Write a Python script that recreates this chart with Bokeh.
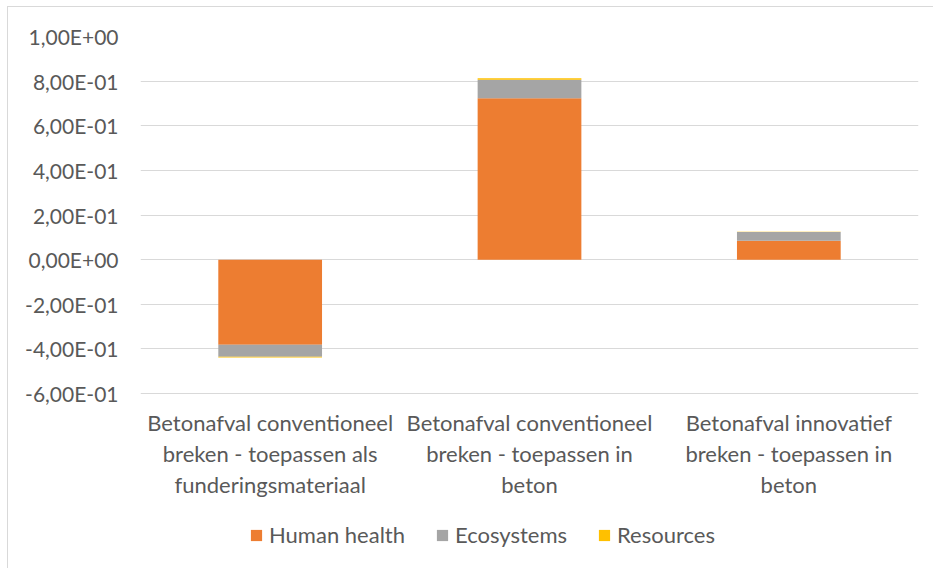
from bokeh.plotting import figure
from bokeh.models import FactorRange, FixedTicker, Legend, LegendItem, Range1d, ColumnDataSource
from bokeh.core.properties import value
from bokeh.embed import file_html
from bokeh.resources import INLINE

# ---- data ----
categories = [
    "Betonafval conventioneel breken - toepassen als funderingsmateriaal",
    "Betonafval conventioneel breken - toepassen in beton",
    "Betonafval innovatief breken - toepassen in beton",
]
# wrapped category labels (line 1, line 2, line 3)
category_label_lines = [
    ["Betonafval conventioneel", "breken - toepassen als", "funderingsmateriaal"],
    ["Betonafval conventioneel", "breken - toepassen in", "beton"],
    ["Betonafval innovatief", "breken - toepassen in", "beton"],
]
series = ["Human health", "Ecosystems", "Resources"]
human_health = [-0.382, 0.723, 0.085]
ecosystems = [-0.053, 0.083, 0.039]
resources = [-0.004, 0.007, 0.001]
colors = ["#ED7D31", "#A5A5A5", "#FFC000"]
y_ticks = [-0.6, -0.4, -0.2, 0.0, 0.2, 0.4, 0.6, 0.8, 1.0]
y_tick_labels = ["-6,00E-01", "-4,00E-01", "-2,00E-01", "0,00E+00", "2,00E-01",
                 "4,00E-01", "6,00E-01", "8,00E-01", "1,00E+00"]

FONT = "Lato"
TXT = "#595959"

# layout: value axis spans 357 px for 1.6 units; frame continues 176 px below it
FRAME_H = 533
PX_AXIS = 357
y_top = y_ticks[-1]
y_bottom = y_top - (y_ticks[-1] - y_ticks[0]) * FRAME_H / PX_AXIS

data = {"cat": categories, "Human health": human_health,
        "Ecosystems": ecosystems, "Resources": resources}

p = figure(x_range=FactorRange(factors=categories), y_range=Range1d(y_bottom, y_top),
           width=926, height=562, output_backend="svg", toolbar_location=None,
           min_border_left=132, min_border_right=16, min_border_top=29,
           min_border_bottom=0)
p.styles = {"margin-left": "7px", "margin-top": "6px",
            "border-left": "1px solid #d9d9d9", "border-top": "1px solid #d9d9d9"}

renderers = p.vbar_stack(series, x="cat", width=0.40, color=colors,
                         line_color=None, source=data)

p.outline_line_color = None
p.xgrid.grid_line_color = None
p.ygrid.grid_line_color = "#d9d9d9"
p.ygrid.grid_line_width = 1
p.xaxis.visible = False

yax = p.yaxis[0]
yax.ticker = FixedTicker(ticks=y_ticks)
yax.major_label_overrides = {t: l for t, l in zip(y_ticks, y_tick_labels)}
yax.axis_line_color = None
yax.major_tick_line_color = None
yax.minor_tick_line_color = None
yax.major_tick_out = 0
yax.major_tick_in = 0
yax.major_label_text_font = FONT
yax.major_label_text_font_size = "21px"
yax.major_label_text_color = TXT
yax.major_label_standoff = 22

# category labels below the value axis
lab_x, lab_text, lab_off = [], [], []
for c, lines in zip(categories, category_label_lines):
    for k, line in enumerate(lines):
        lab_x.append(c)
        lab_text.append(line)
        lab_off.append(29 + 31 * k)
lab_src = ColumnDataSource(dict(x=lab_x, text=lab_text, yoff=lab_off,
                                y=[y_ticks[0]] * len(lab_x)))
p.text(x="x", y="y", text="text", y_offset="yoff", source=lab_src,
       text_align="center", text_baseline="middle", text_font=value(FONT),
       text_font_size="22px", text_color=TXT)

legend = Legend(items=[LegendItem(label=s, renderers=[r]) for s, r in zip(series, renderers)],
                orientation="horizontal", location=(109, 21),
                glyph_width=14, glyph_height=14, label_standoff=6, spacing=30,
                padding=0, margin=0, label_height=20,
                label_text_font=FONT, label_text_font_size="22px",
                label_text_color=TXT, border_line_color=None,
                background_fill_alpha=0)
p.add_layout(legend, "center")

open("out.html", "w").write(file_html(p, INLINE))
